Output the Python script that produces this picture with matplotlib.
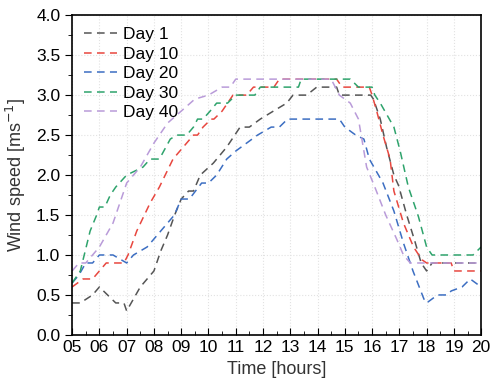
import matplotlib
matplotlib.use("Agg")
import matplotlib.pyplot as plt
from matplotlib.ticker import MultipleLocator

plt.rcParams['font.family'] = ['Liberation Sans', 'DejaVu Sans']

# hours of day and wind speed [m/s]
t_day1 = [5.0, 5.3, 5.75, 6.0, 6.3, 6.6, 6.9, 7.0, 7.5, 8.0, 8.25, 8.5, 8.76, 9.0, 9.27, 9.45, 9.7,
          10.18, 10.67, 11.16, 11.5, 11.9, 12.38, 12.87, 13.1, 13.6, 13.97, 14.7, 14.8, 15.95, 16.05,
          16.3, 16.53, 16.8, 16.97, 17.27, 17.57, 17.8, 18.0, 18.2, 20.0]
v_day1 = [0.4, 0.4, 0.5, 0.6, 0.5, 0.4, 0.4, 0.3, 0.6, 0.8, 1.05, 1.25, 1.5, 1.7, 1.8, 1.8, 2.0,
          2.15, 2.35, 2.6, 2.6, 2.7, 2.8, 2.9, 3.0, 3.0, 3.1, 3.1, 3.0, 3.0, 2.95,
          2.7, 2.35, 2.0, 1.87, 1.5, 1.17, 0.9, 0.8, 0.9, 0.9]

t_day10 = [5.0, 5.4, 5.75, 6.0, 6.25, 6.9, 7.05, 7.37, 7.86, 8.2, 8.7, 9.2, 9.45, 9.6, 9.8, 10.1, 10.2,
           10.5, 10.7, 10.9, 11.4, 11.65, 12.4, 12.6, 14.7, 14.9, 15.9, 16.0, 16.17, 16.4, 16.66, 16.8,
           17.15, 17.52, 17.83, 18.0, 18.9, 19.0, 20.0]
v_day10 = [0.6, 0.7, 0.7, 0.8, 0.9, 0.9, 1.0, 1.3, 1.65, 1.85, 2.2, 2.4, 2.5, 2.5, 2.6, 2.7, 2.7,
           2.8, 2.9, 3.0, 3.0, 3.1, 3.1, 3.2, 3.2, 3.1, 3.1, 3.0, 2.8, 2.5, 2.2, 1.8,
           1.4, 1.1, 0.94, 0.9, 0.9, 0.8, 0.8]

t_day20 = [5.0, 5.25, 5.5, 5.75, 6.0, 6.5, 6.75, 7.0, 7.25, 7.5, 7.75, 8.0, 8.25, 8.5, 8.75, 9.0, 9.3,
           9.75, 10.0, 10.3, 10.67, 11.0, 11.4, 11.8, 12.3, 12.6, 12.9, 14.8, 15.0, 15.4, 15.7, 15.9,
           16.4, 16.8, 17.15, 17.5, 17.9, 18.0, 18.4, 18.75, 18.9, 19.3, 19.6, 20.0]
v_day20 = [0.65, 0.75, 0.9, 0.9, 1.0, 1.0, 0.95, 0.9, 1.0, 1.05, 1.1, 1.2, 1.3, 1.4, 1.5, 1.7, 1.7,
           1.9, 1.9, 2.0, 2.2, 2.3, 2.4, 2.5, 2.6, 2.6, 2.7, 2.7, 2.6, 2.5, 2.45, 2.2,
           1.9, 1.55, 1.15, 0.8, 0.45, 0.4, 0.5, 0.5, 0.55, 0.6, 0.7, 0.6]

t_day30 = [5.0, 5.3, 5.48, 5.66, 5.9, 6.0, 6.2, 6.4, 6.6, 7.0, 7.3, 7.6, 7.86, 8.2, 8.6, 8.84, 9.2,
           9.45, 9.6, 9.8, 10.06, 10.3, 10.7, 11.0, 11.7, 11.9, 13.3, 13.4, 15.2, 15.5, 16.0, 16.1,
           16.3, 16.8, 17.03, 17.33, 17.7, 18.0, 18.2, 19.7, 20.0]
v_day30 = [0.65, 0.8, 1.05, 1.3, 1.5, 1.6, 1.6, 1.75, 1.85, 2.0, 2.05, 2.1, 2.2, 2.2, 2.45, 2.5, 2.5,
           2.6, 2.7, 2.7, 2.8, 2.9, 2.9, 3.0, 3.0, 3.1, 3.1, 3.2, 3.2, 3.1, 3.1, 3.0,
           2.9, 2.6, 2.3, 1.85, 1.48, 1.1, 1.0, 1.0, 1.1]

t_day40 = [5.0, 5.25, 5.5, 5.75, 6.0, 6.5, 7.0, 7.5, 8.0, 8.5, 9.0, 9.5, 10.0, 10.5, 10.8, 11.0, 14.5,
           14.8, 15.2, 15.5, 15.8, 16.1, 16.5, 16.9, 17.15, 17.4, 20.0]
v_day40 = [0.8, 0.9, 0.9, 1.0, 1.1, 1.4, 1.9, 2.1, 2.4, 2.65, 2.8, 2.95, 3.0, 3.1, 3.1, 3.2, 3.2,
           3.0, 2.9, 2.7, 2.1, 1.85, 1.5, 1.2, 1.0, 0.9, 0.9]

labels = ['Day 1', 'Day 10', 'Day 20', 'Day 30', 'Day 40']
colors = ['#555555', '#e8473f', '#3c6ec2', '#2ea36c', '#b99bd9']
hour_labels = ['%02d' % h for h in range(5, 21)]

fig = plt.figure(figsize=(4.94, 3.89), dpi=100)
ax = fig.add_axes([0.146, 0.139, 0.828, 0.822])

series = [(t_day1, v_day1), (t_day10, v_day10), (t_day20, v_day20), (t_day30, v_day30), (t_day40, v_day40)]
for (t, v), lab, col in zip(series, labels, colors):
    ax.plot(t, v, color=col, lw=1.1, dashes=(5, 3.5), label=lab)

ax.set_xlim(5, 20)
ax.set_ylim(0, 4)
ax.xaxis.set_minor_locator(MultipleLocator(0.5))
ax.yaxis.set_major_locator(MultipleLocator(0.5))
ax.yaxis.set_minor_locator(MultipleLocator(0.25))
ax.set_xticks(range(5, 21))
ax.set_xticklabels(hour_labels)
ax.yaxis.set_major_formatter(matplotlib.ticker.FormatStrFormatter('%.1f'))

ax.tick_params(axis='x', which='both', direction='in', labelsize=12.5, pad=4)
ax.tick_params(axis='x', which='major', length=5)
ax.tick_params(axis='x', which='minor', length=3)
ax.tick_params(axis='y', which='both', direction='out', labelsize=12.5)
ax.tick_params(axis='y', which='major', length=5)
ax.tick_params(axis='y', which='minor', length=3)

ax.grid(True, which='major', color='#e2e2e2', linestyle=':', lw=0.8)
ax.set_axisbelow(True)
for s in ax.spines.values():
    s.set_linewidth(1.2)

ax.set_xlabel('Time [hours]', fontsize=13, color='#333333')
ax.set_ylabel('Wind speed [ms$^{-1}$]', fontsize=13, color='#333333', labelpad=6)

leg = ax.legend(loc='upper left', frameon=False, fontsize=12.5, handlelength=1.9,
                handletextpad=0.35, labelspacing=0.25, borderaxespad=0.3)

fig.savefig('out.png', dpi=100)
